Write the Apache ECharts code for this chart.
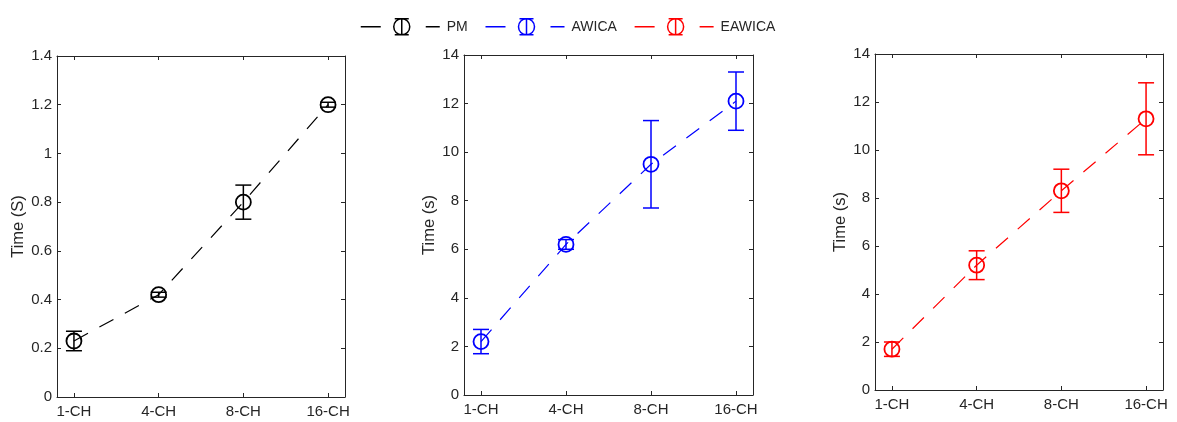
<!DOCTYPE html>
<html>
<head>
<meta charset="utf-8">
<script src="https://cdn.jsdelivr.net/npm/echarts@6/dist/echarts.min.js"></script>
<style>
html,body{margin:0;padding:0;background:#fff;}
#chart{width:1177px;height:422px;}
</style>
</head>
<body>
<div id="chart"></div>
<script>
// ---- data ----
const categories = ['1-CH', '4-CH', '8-CH', '16-CH'];
const catPos = [1, 2, 3, 4];
const seriesNames = ['PM', 'AWICA', 'EAWICA'];
const yAxisNames = ['Time (S)', 'Time (s)', 'Time (s)'];

const pmMean = [0.23, 0.42, 0.80, 1.20];
const pmLow  = [0.19, 0.41, 0.73, 1.19];
const pmHigh = [0.27, 0.43, 0.87, 1.21];

const awicaMean = [2.2, 6.2, 9.5, 12.1];
const awicaLow  = [1.7, 6.0, 7.7, 10.9];
const awicaHigh = [2.7, 6.4, 11.3, 13.3];

const eawicaMean = [1.7, 5.2, 8.3, 11.3];
const eawicaLow  = [1.4, 4.6, 7.4, 9.8];
const eawicaHigh = [2.0, 5.8, 9.2, 12.8];

const yTicksPM = [0, 1.4, 0.2];      // min, max, interval
const yTicksOther = [0, 14, 2];

// ---- layout/styling ----
const colors = ['#000000', '#0000ff', '#ff0000'];
const means = [pmMean, awicaMean, eawicaMean];
const lows = [pmLow, awicaLow, eawicaLow];
const highs = [pmHigh, awicaHigh, eawicaHigh];
const yRanges = [yTicksPM, yTicksOther, yTicksOther];
const grids = [
  {left: 57, right: 832, top: 56, bottom: 25},
  {left: 464, right: 424, top: 55, bottom: 27},
  {left: 875, right: 14, top: 54, bottom: 32}
];
const nameGaps = [30, 22.5, 23.5];
const axisColor = '#262626';
const FONT = 'Liberation Sans, Arial, Helvetica, sans-serif';

const xAxes = [], yAxes = [], series = [];
grids.forEach((g, i) => {
  const common = {
    type: 'value', gridIndex: i, min: 0.8, max: 4.2,
    axisLine: {show: true, onZero: false, lineStyle: {color: axisColor, width: 1}},
    axisTick: {show: true, inside: true, length: 4, lineStyle: {color: axisColor}, customValues: catPos},
    splitLine: {show: false}
  };
  xAxes.push(Object.assign({}, common, {
    position: 'bottom',
    axisLabel: {show: true, margin: 7, fontSize: 15, color: axisColor, fontFamily: FONT,
      customValues: catPos, formatter: v => categories[catPos.indexOf(Math.round(v))] || ''}
  }));
  xAxes.push(Object.assign({}, common, {position: 'top', axisLabel: {show: false}}));
  const yr = yRanges[i];
  const ycommon = {
    type: 'value', gridIndex: i, min: yr[0], max: yr[1], interval: yr[2],
    axisLine: {show: true, onZero: false, lineStyle: {color: axisColor, width: 1}},
    axisTick: {show: true, inside: true, length: 4, lineStyle: {color: axisColor}},
    splitLine: {show: false}
  };
  yAxes.push(Object.assign({}, ycommon, {
    position: 'left',
    name: yAxisNames[i], nameLocation: 'middle', nameGap: nameGaps[i],
    nameTextStyle: {fontSize: 16.5, color: axisColor, fontFamily: FONT},
    axisLabel: {show: true, margin: 5, fontSize: 15, color: axisColor, fontFamily: FONT}
  }));
  yAxes.push(Object.assign({}, ycommon, {position: 'right', axisLabel: {show: false}}));

  const lineData = catPos.map((x, k) => [x, means[i][k]]);
  const errData = catPos.map((x, k) => [x, means[i][k], lows[i][k], highs[i][k]]);
  series.push({
    name: seriesNames[i], type: 'line', xAxisIndex: 2 * i, yAxisIndex: 2 * i,
    data: lineData, symbol: 'none', silent: true,
    lineStyle: {color: colors[i], width: 1.2, type: [16, 13]},
    itemStyle: {color: colors[i]}
  });
  series.push({
    name: seriesNames[i], type: 'custom', xAxisIndex: 2 * i, yAxisIndex: 2 * i,
    data: errData, itemStyle: {color: colors[i]}, z: 3,
    renderItem: function (params, api) {
      const x = api.value(0);
      const pm = api.coord([x, api.value(1)]);
      const pl = api.coord([x, api.value(2)]);
      const ph = api.coord([x, api.value(3)]);
      const c = colors[i];
      const hw = 8;
      return {type: 'group', children: [
        {type: 'line', shape: {x1: pl[0], y1: pl[1], x2: ph[0], y2: ph[1]}, style: {stroke: c, lineWidth: 1.5}},
        {type: 'line', shape: {x1: pl[0] - hw, y1: pl[1], x2: pl[0] + hw, y2: pl[1]}, style: {stroke: c, lineWidth: 1.5}},
        {type: 'line', shape: {x1: ph[0] - hw, y1: ph[1], x2: ph[0] + hw, y2: ph[1]}, style: {stroke: c, lineWidth: 1.5}},
        {type: 'circle', shape: {cx: pm[0], cy: pm[1], r: 7.5}, style: {fill: 'none', stroke: c, lineWidth: 1.8}}
      ]};
    }
  });
});

const legendIcon = 'path://M0 8 L20 8 M34 0 L48 0 M34 16 L48 16 M41 0 L41 16 M33 8 A8 8 0 1 1 49 8 A8 8 0 1 1 33 8 M65 8 L79 8';

const option = {
  animation: false,
  backgroundColor: '#ffffff',
  legend: {
    left: 355, top: 13, itemWidth: 79, itemHeight: 16, itemGap: 17,
    textStyle: {fontSize: 14, color: axisColor, fontFamily: FONT, padding: [0, 0, 0, 2]},
    data: seriesNames.map((n, i) => ({
      name: n, icon: legendIcon,
      itemStyle: {color: 'rgba(0,0,0,0)', borderColor: colors[i], borderWidth: 1.5}
    }))
  },
  grid: grids,
  xAxis: xAxes,
  yAxis: yAxes,
  series: series
};

const chart = echarts.init(document.getElementById('chart'), null, {renderer: 'canvas'});
chart.setOption(option);
</script>
</body>
</html>
